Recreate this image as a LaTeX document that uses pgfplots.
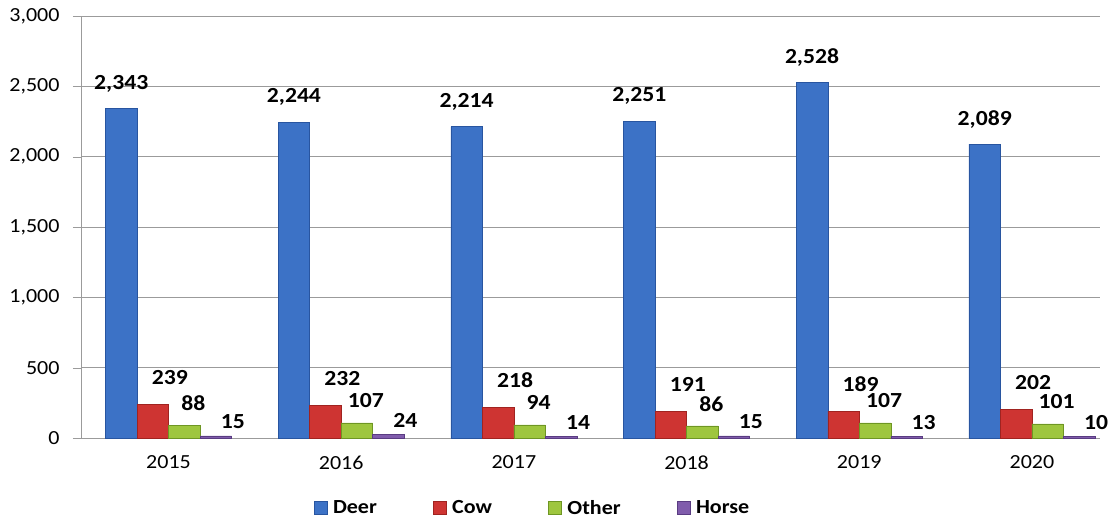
\documentclass[border=0pt]{standalone}
\usepackage{pgfplots}
\pgfplotsset{compat=1.18}
\usepackage{fontspec}
\setmainfont{Carlito}[FakeStretch=1.1]
\definecolor{deer}{RGB}{60,114,198}
\definecolor{deerD}{RGB}{40,85,160}
\definecolor{cow}{RGB}{206,52,50}
\definecolor{cowD}{RGB}{160,35,32}
\definecolor{other}{RGB}{158,198,62}
\definecolor{otherD}{RGB}{110,150,35}
\definecolor{horse}{RGB}{128,92,172}
\definecolor{horseD}{RGB}{90,60,130}
\definecolor{gridc}{RGB}{155,155,155}
\begin{document}
\begin{tikzpicture}
\useasboundingbox (-81bp,-84bp) rectangle (1030bp,438bp);
\begin{axis}[
  at={(0,0)}, anchor=south west,
  scale only axis, width=1019bp, height=422bp,
  ybar=0pt, bar width=31.5bp,
  xmin=-0.5067, xmax=5.3937, ymin=0, ymax=3000,
  axis x line*=bottom, axis y line*=left,
  axis line style={gridc},
  xtick={0,...,5},
  xticklabels={2015,2016,2017,2018,2019,2020},
  x tick style={draw=none},
  extra x ticks={-0.5067,0.4767,1.4601,2.4435,3.4268,4.4102,5.3936},
  extra x tick labels={},
  extra x tick style={major tick length=8bp, tick align=outside, tick style={draw=gridc}, grid=none},
  ytick={0,500,...,3000},
  ymajorgrids, grid style={gridc, line width=0.8bp},
  y tick style={draw=gridc}, major tick length=8bp, tick align=outside,
  /pgf/number format/assume math mode=true,
  /pgf/number format/1000 sep={,},
  yticklabel style={font=\fontsize{20bp}{22bp}\selectfont, xshift=-10bp},
  xticklabel style={font=\fontsize{20bp}{22bp}\selectfont, yshift=-6bp},
  legend columns=4,
  legend style={draw=none, at={(rel axis cs:0.443,-0.166)}, anchor=center,
    font=\bfseries\fontsize{20bp}{22bp}\selectfont,
    /tikz/every odd column/.append style={column sep=4bp},
    /tikz/every even column/.append style={column sep=54bp}},
  legend image code/.code={\draw[#1] (0bp,-6.5bp) rectangle (13bp,6.5bp);},
  nodes near coords,
  every node near coord/.append style={font=\bfseries\fontsize{21.5bp}{23bp}\selectfont, anchor=center, text=black},
]
\addplot[fill=deer, draw=deerD, every node near coord/.append style={yshift=25bp}]
  coordinates {(0,2343) (1,2244) (2,2214) (3,2251) (4,2528) (5,2089)};
\addplot[fill=cow, draw=cowD, every node near coord/.append style={xshift=17bp, yshift=27bp}]
  coordinates {(0,239) (1,232) (2,218) (3,191) (4,189) (5,202)};
\addplot[fill=other, draw=otherD, every node near coord/.append style={xshift=9bp, yshift=22bp}]
  coordinates {(0,88) (1,107) (2,94) (3,86) (4,107) (5,101)};
\addplot[fill=horse, draw=horseD, every node near coord/.append style={xshift=17bp, yshift=14bp}]
  coordinates {(0,15) (1,24) (2,14) (3,15) (4,13) (5,10)};
\legend{Deer,Cow,Other,Horse}
\end{axis}
\end{tikzpicture}
\end{document}
